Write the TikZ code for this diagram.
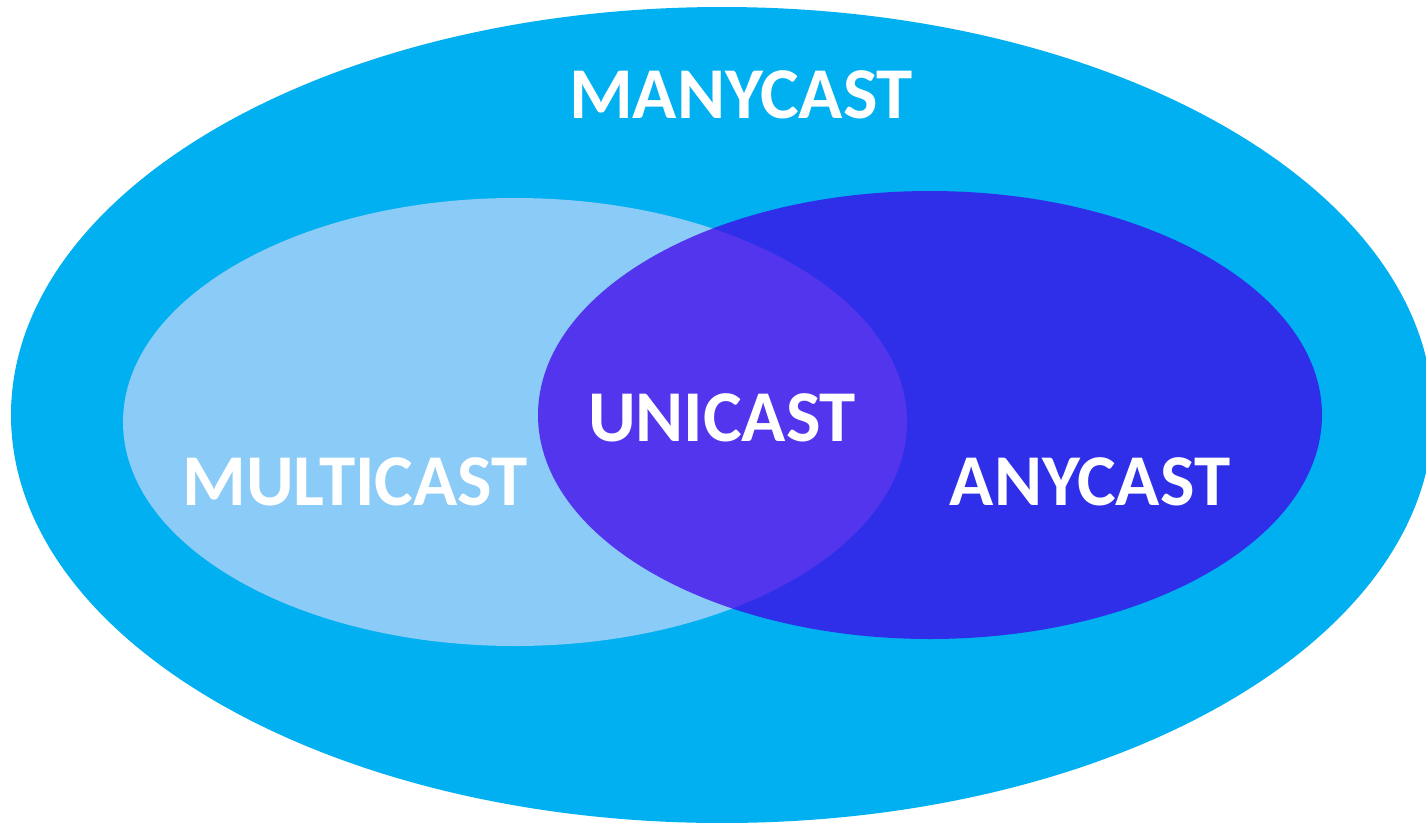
\documentclass[tikz,border=0pt]{standalone}
\usepackage{fontspec}
\setmainfont{Carlito}
\definecolor{manyblue}{RGB}{0,176,240}
\definecolor{multiblue}{RGB}{139,203,247}
\definecolor{anyblue}{RGB}{63,4,233}
\begin{document}
\begin{tikzpicture}[x=1pt,y=-1pt,
  setlabel/.style={text=white,font=\fontsize{73}{80}\selectfont\bfseries,inner sep=0pt,anchor=base}]
\useasboundingbox (0,0) rectangle (1426,822);
\fill[white] (0,0) rectangle (1426,822);
\begin{scope}
\clip (0,0) rectangle (1426,822);
% outer set
\fill[manyblue] (722,415) ellipse [x radius=711, y radius=408];
% left and right sets
\fill[multiblue] (515,422) ellipse [x radius=392, y radius=224];
\fill[anyblue,fill opacity=0.75] (930,415) ellipse [x radius=392, y radius=224];
\end{scope}
\node[setlabel] (many) at (741,118) {MANYCAST};
\node[setlabel] (multi) at (355,505) {MULTICAST};
\node[setlabel] (uni) at (722,441) {UNICAST};
\node[setlabel] (any) at (1090,505) {ANYCAST};
\end{tikzpicture}
\end{document}
